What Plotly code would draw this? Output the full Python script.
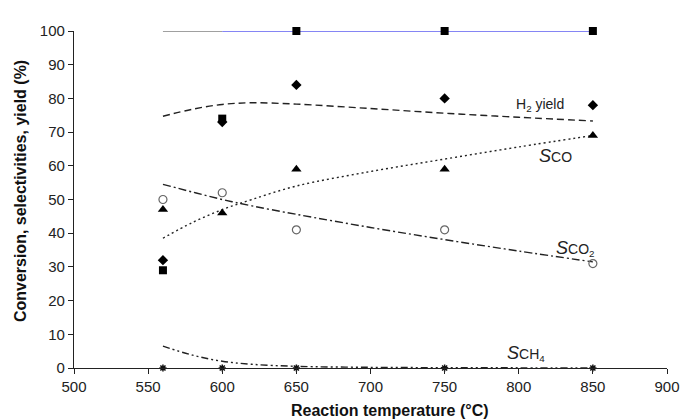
import plotly.graph_objects as go

temps = [560, 600, 650, 750, 850]
toluene = [29, 74, 100, 100, 100]
h2_yield = [32, 73, 84, 80, 78]
s_co = [47, 46, 59, 59, 69]
s_co2 = [50, 52, 41, 41, 31]
s_ch4 = [0, 0, 0, 0, 0]

# trend curves
fit_x = [560, 580, 600, 620, 650, 700, 750, 800, 850]
fit_h2 = [74.7, 76.8, 78.2, 78.7, 78.3, 77.0, 75.6, 74.4, 73.3]
fit_co = [38.5, 43.2, 47.0, 50.0, 54.0, 58.3, 62.0, 65.6, 69.0]
fit_co2 = [54.5, 52.2, 50.0, 48.1, 45.6, 41.7, 38.1, 34.7, 31.5]
fit_ch4 = [6.5, 3.8, 2.0, 1.1, 0.5, 0.2, 0.1, 0.05, 0.0]

tol_line_gray_x = [560, 600]
tol_line_blue_x = [600, 850]
tol_line_y = [100, 100]

FONT = "Arial, Liberation Sans, sans-serif"

fig = go.Figure()
fig.add_trace(go.Scatter(x=tol_line_gray_x, y=tol_line_y, mode="lines", cliponaxis=False,
                         line=dict(color="#808080", width=1.6), hoverinfo="skip"))
fig.add_trace(go.Scatter(x=tol_line_blue_x, y=tol_line_y, mode="lines", cliponaxis=False,
                         line=dict(color="#5c5cf0", width=1.6), hoverinfo="skip"))

fig.add_trace(go.Scatter(x=fit_x, y=fit_h2, mode="lines", line_shape="spline",
                         line=dict(color="#222", width=1.4, dash="7px,4px")))
fig.add_trace(go.Scatter(x=fit_x, y=fit_co, mode="lines", line_shape="spline",
                         line=dict(color="#222", width=1.4, dash="2px,3px")))
fig.add_trace(go.Scatter(x=fit_x, y=fit_co2, mode="lines", line_shape="spline",
                         line=dict(color="#222", width=1.4, dash="8px,3px,2px,3px")))
fig.add_trace(go.Scatter(x=fit_x, y=fit_ch4, mode="lines", line_shape="spline",
                         line=dict(color="#222", width=1.4, dash="7px,3px,2px,3px,2px,3px")))

fig.add_trace(go.Scatter(x=temps, y=s_ch4, mode="markers",
                         marker=dict(symbol="asterisk-open", size=6, color="#111",
                                     line=dict(width=1.5, color="#111")), cliponaxis=False))
fig.add_trace(go.Scatter(x=temps, y=s_co2, mode="markers",
                         marker=dict(symbol="circle-open", size=8, color="#666",
                                     line=dict(width=1.2, color="#666")), cliponaxis=False))
fig.add_trace(go.Scatter(x=temps, y=s_co, mode="markers",
                         marker=dict(symbol="triangle-up", size=9, color="#000"), cliponaxis=False))
fig.add_trace(go.Scatter(x=temps, y=toluene, mode="markers",
                         marker=dict(symbol="square", size=8, color="#000"), cliponaxis=False))
fig.add_trace(go.Scatter(x=temps, y=h2_yield, mode="markers",
                         marker=dict(symbol="diamond", size=8, color="#000"), cliponaxis=False))

font_lbl = dict(family=FONT, size=14, color="#222")
fig.add_annotation(x=805, y=103.6, text="Toluene conversion", showarrow=False, font=font_lbl)
fig.add_annotation(x=814, y=78, text="H<sub>2</sub> yield", showarrow=False, font=font_lbl)
fig.add_annotation(x=825, y=63, text="<span style='font-size:18px'><i>S</i></span>CO",
                   showarrow=False, font=font_lbl)
fig.add_annotation(x=838, y=35.5, text="<span style='font-size:18px'><i>S</i></span>CO<sub>2</sub>",
                   showarrow=False, font=font_lbl)
fig.add_annotation(x=805, y=4.2, text="<span style='font-size:18px'><i>S</i></span>CH<sub>4</sub>",
                   showarrow=False, font=font_lbl)

# axis titles
fig.add_annotation(xref="paper", yref="paper", x=0.533, y=-0.125, text="<b>Reaction temperature (°C)</b>",
                   showarrow=False, xanchor="center", yanchor="middle",
                   font=dict(family=FONT, size=16, color="#111"))
fig.add_annotation(xref="paper", yref="paper", x=-0.091, y=0.525,
                   text="<b>Conversion, selectivities, yield (%)</b>", textangle=-90,
                   showarrow=False, xanchor="center", yanchor="middle",
                   font=dict(family=FONT, size=16, color="#111"))

axis_common = dict(showgrid=False, zeroline=False, showline=True, linecolor="#222", linewidth=1.3,
                   ticks="outside", ticklen=5, tickcolor="#222", tickwidth=1.3, automargin=False,
                   tickfont=dict(family=FONT, size=15, color="#222"))
fig.update_xaxes(range=[500, 900], dtick=50, tick0=500, **axis_common)
fig.update_yaxes(range=[0, 100], dtick=10, tick0=0, **axis_common)
fig.update_layout(width=685, height=419, showlegend=False, plot_bgcolor="white", paper_bgcolor="white",
                  margin=dict(l=74, r=18, t=31, b=51))
fig.write_html("out.html")
